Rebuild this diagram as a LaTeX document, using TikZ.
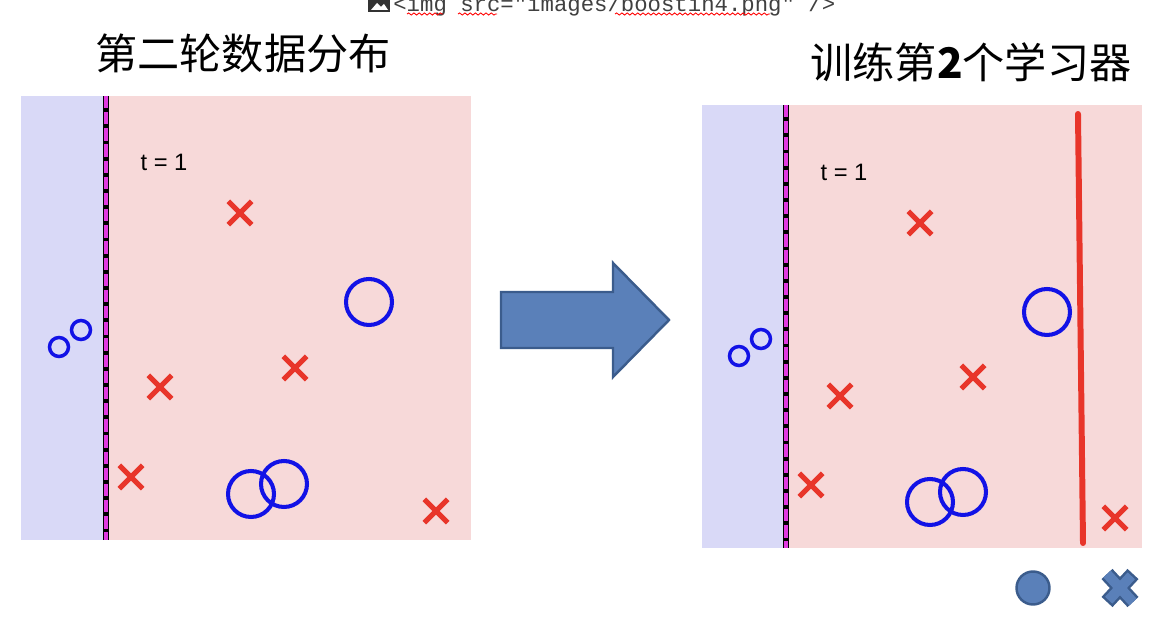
\documentclass[tikz,border=0pt]{standalone}
\usepackage{fontspec}
\setmainfont{Liberation Sans}
\setmonofont{Liberation Mono}
\newfontfamily\cjk{Noto Sans CJK SC}
\usetikzlibrary{shapes.misc, positioning, decorations.pathmorphing}
\definecolor{RegionBlue}{HTML}{D9D9F7}
\definecolor{RegionPink}{HTML}{F7D9D9}
\definecolor{PointRed}{HTML}{E8352A}
\definecolor{PointBlue}{HTML}{1212E6}
\definecolor{ShapeFill}{HTML}{5A80B9}
\definecolor{ShapeEdge}{HTML}{3B5C8C}
\definecolor{Divider}{HTML}{E03AE0}

\begin{document}
\begin{tikzpicture}[x=0.02cm, y=-0.02cm,
    cross/.style={cross out, draw=PointRed, line width=3pt, minimum size=0.36cm, inner sep=0pt},
    ring/.style={circle, draw=PointBlue, line width=2.3pt, minimum size=0.92cm, inner sep=0pt},
    smallring/.style={circle, draw=PointBlue, line width=2pt, minimum size=0.38cm, inner sep=0pt},
    tlabel/.style={font=\fontsize{13.5}{13.5}\selectfont},
    title/.style={font=\cjk\fontsize{24}{24}\selectfont},
    squiggle/.style={draw=red, line width=0.5pt, decorate, decoration={snake, amplitude=0.6pt, segment length=3pt}},
    divider/.style={draw=Divider, line width=2.2pt, dash pattern=on 7pt off 2.2pt}]
    \useasboundingbox (0,0) rectangle (1154,641);
    \clip (0,0) rectangle (1154,641);

    \fill[black!80] (368,-4) rectangle (390,12);
    \fill[white] (371,10) -- (377,3) -- (381,7) -- (384,4) -- (388,10) -- cycle;
    \node[anchor=base west, inner sep=0pt, text=black!75, font=\ttfamily\fontsize{12.7}{12.7}\selectfont] (htmltag) at (393,12) {<img src="images/boostin4.png" />};
    \draw[squiggle] (407,14) -- (443,14);
    \draw[squiggle] (458,14) -- (497,14);
    \draw[squiggle] (615,14) -- (770,14);

    \node[title] (lefttitle) at (243,53) {第二轮数据分布};
    \node[title] (righttitle) at (971,62) {训练第\textbf{2}个学习器};

    \fill[RegionBlue] (21,96) rectangle (105,540);
    \fill[RegionPink] (105,96) rectangle (471,540);
    \draw[black, line width=3.6pt] (106,96) -- (106,540);
    \draw[divider] (106,96) -- (106,540);
    \node[tlabel] (lt) at (164,162) {t = 1};
    \node[cross] (lx1) at (240,213) {};
    \node[cross] (lx2) at (160,387) {};
    \node[cross] (lx3) at (295,368) {};
    \node[cross] (lx4) at (131,477) {};
    \node[cross] (lx5) at (436,511) {};
    \node[smallring] (lo1) at (59,347) {};
    \node[smallring] (lo2) at (81,330) {};
    \node[ring] (lo3) at (369,302) {};
    \node[ring] (lo4) at (251,494) {};
    \node[ring] (lo5) at (284,484) {};

    \filldraw[fill=ShapeFill, draw=ShapeEdge, line width=1.4pt]
        (501,292) -- (613,292) -- (613,263) -- (669,320) -- (613,377) -- (613,348) -- (501,348) -- cycle;

    \fill[RegionBlue] (702,105) rectangle (786,548);
    \fill[RegionPink] (786,105) rectangle (1142,548);
    \draw[black, line width=3.6pt] (786,105) -- (786,548);
    \draw[divider] (786,105) -- (786,548);
    \node[tlabel] (rt) at (844,172) {t = 1};
    \node[cross] (rx1) at (920,223) {};
    \node[cross] (rx2) at (840,396) {};
    \node[cross] (rx3) at (973,377) {};
    \node[cross] (rx4) at (811,485) {};
    \node[cross] (rx5) at (1115,518) {};
    \node[smallring] (ro1) at (739,356) {};
    \node[smallring] (ro2) at (761,339) {};
    \node[ring] (ro3) at (1047,312) {};
    \node[ring] (ro4) at (930,502) {};
    \node[ring] (ro5) at (963,492) {};
    \draw[PointRed, line width=3.4pt, line cap=round] (1078,114) -- (1083,543);

    \node[circle, fill=ShapeFill, draw=ShapeEdge, line width=1.4pt, minimum size=0.66cm, inner sep=0pt] (legendo) at (1033,588) {};
    \draw[ShapeEdge, line width=0.3cm] (1107,574) -- (1133,602) (1133,574) -- (1107,602);
    \draw[ShapeFill, line width=0.2cm, shorten <=0.05cm, shorten >=0.05cm] (1107,574) -- (1133,602) (1133,574) -- (1107,602);
    \coordinate (legendx) at (1120,588);
\end{tikzpicture}
\end{document}
